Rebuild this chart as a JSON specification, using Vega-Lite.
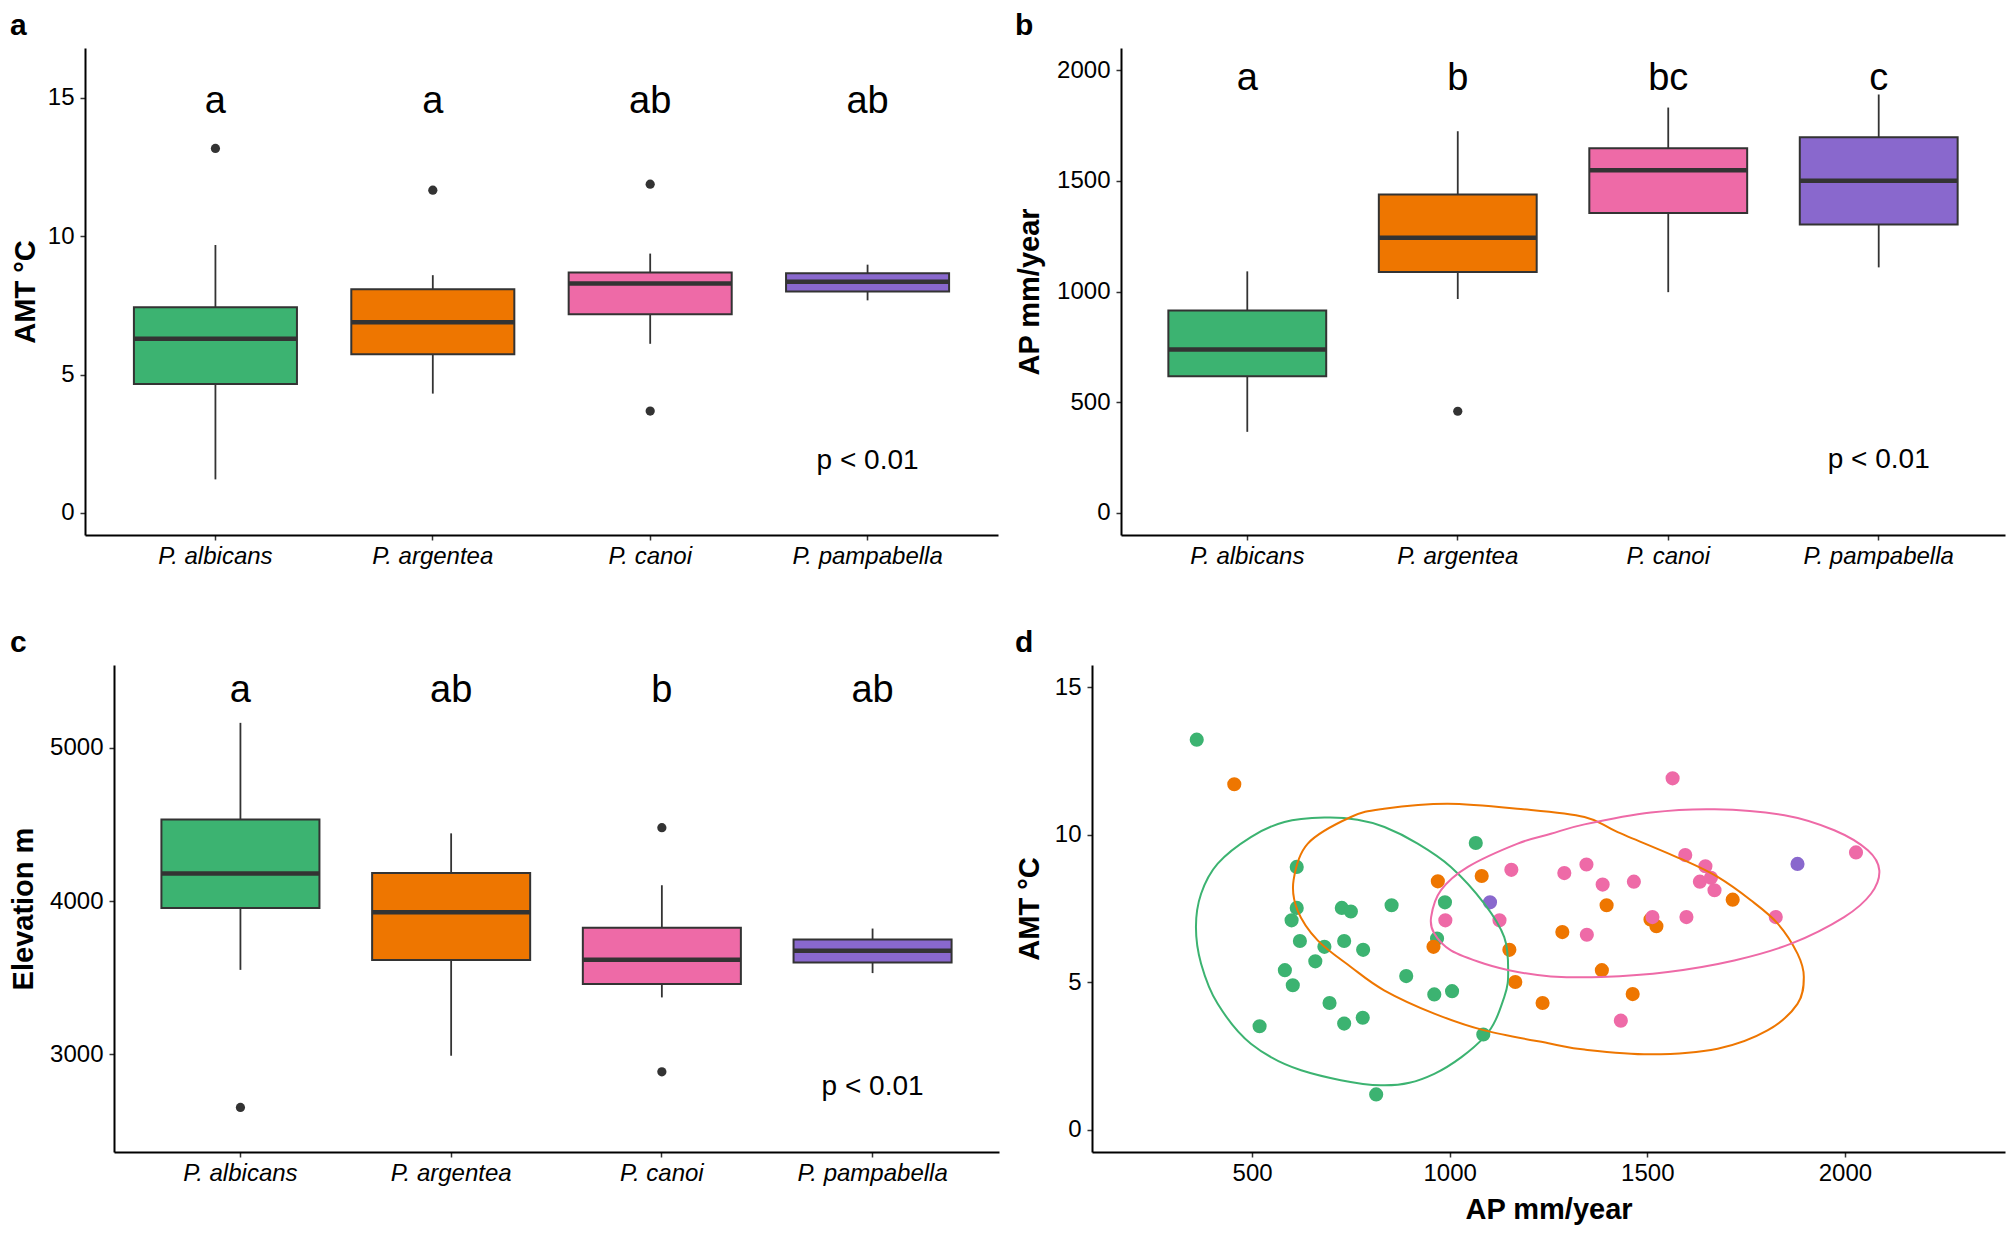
{
  "$schema": "https://vega.github.io/schema/vega-lite/v6.json",
  "background": "white",
  "padding": {"left": 9, "top": 11, "right": 5, "bottom": 5},
  "config": {
    "font": "Liberation Sans",
    "view": {"stroke": null},
    "axis": {"grid": false, "domainColor": "black", "domainWidth": 2, "tickColor": "#333333", "tickWidth": 1.5, "tickSize": 5, "labelColor": "black", "labelFontSize": 24, "labelFont": "Liberation Sans", "titleFont": "Liberation Sans", "titleFontSize": 29, "titleFontWeight": "bold", "titleColor": "black", "titlePadding": 0},
    "axisY": {"labelPadding": 6},
    "axisX": {"labelPadding": 4, "labelAngle": 0},
    "text": {"font": "Liberation Sans", "color": "black"}
  },
  "datasets": {
    "boxes": [
      {"panel": "a", "species": "P. albicans", "lo": 1.21, "q1": 4.66, "med": 6.29, "q3": 7.43, "hi": 9.68},
      {"panel": "a", "species": "P. argentea", "lo": 4.31, "q1": 5.73, "med": 6.89, "q3": 8.08, "hi": 8.59},
      {"panel": "a", "species": "P. canoi", "lo": 6.11, "q1": 7.18, "med": 8.29, "q3": 8.69, "hi": 9.37},
      {"panel": "a", "species": "P. pampabella", "lo": 7.68, "q1": 8.0, "med": 8.35, "q3": 8.66, "hi": 8.97},
      {"panel": "b", "species": "P. albicans", "lo": 366, "q1": 617, "med": 738, "q3": 914, "hi": 1091},
      {"panel": "b", "species": "P. argentea", "lo": 966, "q1": 1088, "med": 1243, "q3": 1438, "hi": 1724},
      {"panel": "b", "species": "P. canoi", "lo": 997, "q1": 1355, "med": 1548, "q3": 1647, "hi": 1831},
      {"panel": "b", "species": "P. pampabella", "lo": 1109, "q1": 1303, "med": 1500, "q3": 1697, "hi": 1890},
      {"panel": "c", "species": "P. albicans", "lo": 3550, "q1": 3955, "med": 4180, "q3": 4532, "hi": 5164},
      {"panel": "c", "species": "P. argentea", "lo": 2989, "q1": 3614, "med": 3926, "q3": 4183, "hi": 4442},
      {"panel": "c", "species": "P. canoi", "lo": 3370, "q1": 3458, "med": 3616, "q3": 3825, "hi": 4103},
      {"panel": "c", "species": "P. pampabella", "lo": 3529, "q1": 3598, "med": 3675, "q3": 3749, "hi": 3820}
    ],
    "outliers": [
      {"panel": "a", "species": "P. albicans", "v": 13.17},
      {"panel": "a", "species": "P. argentea", "v": 11.66},
      {"panel": "a", "species": "P. canoi", "v": 11.88},
      {"panel": "a", "species": "P. canoi", "v": 3.68},
      {"panel": "b", "species": "P. argentea", "v": 459},
      {"panel": "c", "species": "P. albicans", "v": 2651},
      {"panel": "c", "species": "P. canoi", "v": 4479},
      {"panel": "c", "species": "P. canoi", "v": 2884}
    ],
    "labels": [
      {"panel": "a", "species": "P. albicans", "txt": "a", "y": 14.44, "size": "big"},
      {"panel": "a", "species": "P. argentea", "txt": "a", "y": 14.44, "size": "big"},
      {"panel": "a", "species": "P. canoi", "txt": "ab", "y": 14.44, "size": "big"},
      {"panel": "a", "species": "P. pampabella", "txt": "ab", "y": 14.44, "size": "big"},
      {"panel": "a", "species": "P. pampabella", "txt": "p < 0.01", "y": 1.58, "size": "small"},
      {"panel": "b", "species": "P. albicans", "txt": "a", "y": 1909, "size": "big"},
      {"panel": "b", "species": "P. argentea", "txt": "b", "y": 1909, "size": "big"},
      {"panel": "b", "species": "P. canoi", "txt": "bc", "y": 1909, "size": "big"},
      {"panel": "b", "species": "P. pampabella", "txt": "c", "y": 1909, "size": "big"},
      {"panel": "b", "species": "P. pampabella", "txt": "p < 0.01", "y": 201, "size": "small"},
      {"panel": "c", "species": "P. albicans", "txt": "a", "y": 5301, "size": "big"},
      {"panel": "c", "species": "P. argentea", "txt": "ab", "y": 5301, "size": "big"},
      {"panel": "c", "species": "P. canoi", "txt": "b", "y": 5301, "size": "big"},
      {"panel": "c", "species": "P. pampabella", "txt": "ab", "y": 5301, "size": "big"},
      {"panel": "c", "species": "P. pampabella", "txt": "p < 0.01", "y": 2734, "size": "small"}
    ],
    "pts": [
      {"species": "P. albicans", "ap": 360, "amt": 13.22},
      {"species": "P. albicans", "ap": 613, "amt": 8.91},
      {"species": "P. albicans", "ap": 613, "amt": 7.52},
      {"species": "P. albicans", "ap": 600, "amt": 7.10},
      {"species": "P. albicans", "ap": 621, "amt": 6.40},
      {"species": "P. albicans", "ap": 583, "amt": 5.41},
      {"species": "P. albicans", "ap": 603, "amt": 4.90},
      {"species": "P. albicans", "ap": 660, "amt": 5.71},
      {"species": "P. albicans", "ap": 683, "amt": 6.20},
      {"species": "P. albicans", "ap": 727, "amt": 7.52},
      {"species": "P. albicans", "ap": 750, "amt": 7.40},
      {"species": "P. albicans", "ap": 733, "amt": 6.40},
      {"species": "P. albicans", "ap": 781, "amt": 6.10},
      {"species": "P. albicans", "ap": 853, "amt": 7.61},
      {"species": "P. albicans", "ap": 890, "amt": 5.21},
      {"species": "P. albicans", "ap": 696, "amt": 4.30},
      {"species": "P. albicans", "ap": 733, "amt": 3.60},
      {"species": "P. albicans", "ap": 780, "amt": 3.80},
      {"species": "P. albicans", "ap": 519, "amt": 3.51},
      {"species": "P. albicans", "ap": 814, "amt": 1.20},
      {"species": "P. albicans", "ap": 1066, "amt": 9.72},
      {"species": "P. albicans", "ap": 988, "amt": 7.71},
      {"species": "P. albicans", "ap": 968, "amt": 6.48},
      {"species": "P. albicans", "ap": 961, "amt": 4.59},
      {"species": "P. albicans", "ap": 1006, "amt": 4.70},
      {"species": "P. albicans", "ap": 1085, "amt": 3.23},
      {"species": "P. argentea", "ap": 455, "amt": 11.71},
      {"species": "P. argentea", "ap": 970, "amt": 8.42},
      {"species": "P. argentea", "ap": 1081, "amt": 8.60},
      {"species": "P. argentea", "ap": 959, "amt": 6.20},
      {"species": "P. argentea", "ap": 1151, "amt": 6.10},
      {"species": "P. argentea", "ap": 1166, "amt": 5.01},
      {"species": "P. argentea", "ap": 1235, "amt": 4.30},
      {"species": "P. argentea", "ap": 1285, "amt": 6.70},
      {"species": "P. argentea", "ap": 1397, "amt": 7.61},
      {"species": "P. argentea", "ap": 1508, "amt": 7.13},
      {"species": "P. argentea", "ap": 1523, "amt": 6.90},
      {"species": "P. argentea", "ap": 1716, "amt": 7.80},
      {"species": "P. argentea", "ap": 1385, "amt": 5.41},
      {"species": "P. argentea", "ap": 1463, "amt": 4.60},
      {"species": "P. canoi", "ap": 1564, "amt": 11.91},
      {"species": "P. canoi", "ap": 1156, "amt": 8.81},
      {"species": "P. canoi", "ap": 1290, "amt": 8.70},
      {"species": "P. canoi", "ap": 1346, "amt": 8.99},
      {"species": "P. canoi", "ap": 989, "amt": 7.10},
      {"species": "P. canoi", "ap": 1126, "amt": 7.10},
      {"species": "P. canoi", "ap": 1347, "amt": 6.61},
      {"species": "P. canoi", "ap": 1387, "amt": 8.31},
      {"species": "P. canoi", "ap": 1466, "amt": 8.41},
      {"species": "P. canoi", "ap": 1596, "amt": 9.31},
      {"species": "P. canoi", "ap": 1647, "amt": 8.93},
      {"species": "P. canoi", "ap": 1633, "amt": 8.41},
      {"species": "P. canoi", "ap": 1661, "amt": 8.54},
      {"species": "P. canoi", "ap": 1670, "amt": 8.12},
      {"species": "P. canoi", "ap": 1513, "amt": 7.21},
      {"species": "P. canoi", "ap": 1599, "amt": 7.21},
      {"species": "P. canoi", "ap": 1825, "amt": 7.21},
      {"species": "P. canoi", "ap": 2028, "amt": 9.40},
      {"species": "P. canoi", "ap": 1433, "amt": 3.70},
      {"species": "P. pampabella", "ap": 1102, "amt": 7.71},
      {"species": "P. pampabella", "ap": 1880, "amt": 9.01}
    ],
    "ell": [
      {"species": "P. albicans", "i": 1, "ap": 358, "amt": 6.87},
      {"species": "P. albicans", "i": 2, "ap": 371, "amt": 5.63},
      {"species": "P. albicans", "i": 3, "ap": 413, "amt": 4.27},
      {"species": "P. albicans", "i": 4, "ap": 497, "amt": 2.92},
      {"species": "P. albicans", "i": 5, "ap": 624, "amt": 2.02},
      {"species": "P. albicans", "i": 6, "ap": 826, "amt": 1.51},
      {"species": "P. albicans", "i": 7, "ap": 961, "amt": 1.90},
      {"species": "P. albicans", "i": 8, "ap": 1088, "amt": 3.15},
      {"species": "P. albicans", "i": 9, "ap": 1138, "amt": 4.50},
      {"species": "P. albicans", "i": 10, "ap": 1148, "amt": 5.41},
      {"species": "P. albicans", "i": 11, "ap": 1138, "amt": 6.53},
      {"species": "P. albicans", "i": 12, "ap": 1088, "amt": 7.66},
      {"species": "P. albicans", "i": 13, "ap": 1003, "amt": 8.91},
      {"species": "P. albicans", "i": 14, "ap": 919, "amt": 9.70},
      {"species": "P. albicans", "i": 15, "ap": 835, "amt": 10.26},
      {"species": "P. albicans", "i": 16, "ap": 767, "amt": 10.51},
      {"species": "P. albicans", "i": 17, "ap": 683, "amt": 10.58},
      {"species": "P. albicans", "i": 18, "ap": 582, "amt": 10.43},
      {"species": "P. albicans", "i": 19, "ap": 497, "amt": 9.92},
      {"species": "P. albicans", "i": 20, "ap": 413, "amt": 9.02},
      {"species": "P. albicans", "i": 21, "ap": 371, "amt": 8.0},
      {"species": "P. argentea", "i": 1, "ap": 605, "amt": 8.46},
      {"species": "P. argentea", "i": 2, "ap": 641, "amt": 9.70},
      {"species": "P. argentea", "i": 3, "ap": 750, "amt": 10.60},
      {"species": "P. argentea", "i": 4, "ap": 834, "amt": 10.88},
      {"species": "P. argentea", "i": 5, "ap": 995, "amt": 11.05},
      {"species": "P. argentea", "i": 6, "ap": 1180, "amt": 10.87},
      {"species": "P. argentea", "i": 7, "ap": 1341, "amt": 10.60},
      {"species": "P. argentea", "i": 8, "ap": 1425, "amt": 10.09},
      {"species": "P. argentea", "i": 9, "ap": 1594, "amt": 9.13},
      {"species": "P. argentea", "i": 10, "ap": 1678, "amt": 8.57},
      {"species": "P. argentea", "i": 11, "ap": 1762, "amt": 7.78},
      {"species": "P. argentea", "i": 12, "ap": 1830, "amt": 6.99},
      {"species": "P. argentea", "i": 13, "ap": 1880, "amt": 5.97},
      {"species": "P. argentea", "i": 14, "ap": 1896, "amt": 5.18},
      {"species": "P. argentea", "i": 15, "ap": 1880, "amt": 4.27},
      {"species": "P. argentea", "i": 16, "ap": 1804, "amt": 3.37},
      {"species": "P. argentea", "i": 17, "ap": 1678, "amt": 2.75},
      {"species": "P. argentea", "i": 18, "ap": 1509, "amt": 2.56},
      {"species": "P. argentea", "i": 19, "ap": 1341, "amt": 2.72},
      {"species": "P. argentea", "i": 20, "ap": 1256, "amt": 2.92},
      {"species": "P. argentea", "i": 21, "ap": 1088, "amt": 3.37},
      {"species": "P. argentea", "i": 22, "ap": 961, "amt": 3.94},
      {"species": "P. argentea", "i": 23, "ap": 834, "amt": 4.73},
      {"species": "P. argentea", "i": 24, "ap": 750, "amt": 5.52},
      {"species": "P. argentea", "i": 25, "ap": 666, "amt": 6.42},
      {"species": "P. argentea", "i": 26, "ap": 615, "amt": 7.44},
      {"species": "P. canoi", "i": 1, "ap": 953, "amt": 7.21},
      {"species": "P. canoi", "i": 2, "ap": 978, "amt": 8.12},
      {"species": "P. canoi", "i": 3, "ap": 1046, "amt": 8.91},
      {"species": "P. canoi", "i": 4, "ap": 1172, "amt": 9.70},
      {"species": "P. canoi", "i": 5, "ap": 1256, "amt": 10.03},
      {"species": "P. canoi", "i": 6, "ap": 1341, "amt": 10.35},
      {"species": "P. canoi", "i": 7, "ap": 1509, "amt": 10.75},
      {"species": "P. canoi", "i": 8, "ap": 1670, "amt": 10.86},
      {"species": "P. canoi", "i": 9, "ap": 1847, "amt": 10.66},
      {"species": "P. canoi", "i": 10, "ap": 1973, "amt": 10.15},
      {"species": "P. canoi", "i": 11, "ap": 2058, "amt": 9.47},
      {"species": "P. canoi", "i": 12, "ap": 2087, "amt": 8.79},
      {"species": "P. canoi", "i": 13, "ap": 2066, "amt": 8.0},
      {"species": "P. canoi", "i": 14, "ap": 1998, "amt": 7.21},
      {"species": "P. canoi", "i": 15, "ap": 1864, "amt": 6.31},
      {"species": "P. canoi", "i": 16, "ap": 1720, "amt": 5.74},
      {"species": "P. canoi", "i": 17, "ap": 1552, "amt": 5.35},
      {"species": "P. canoi", "i": 18, "ap": 1383, "amt": 5.18},
      {"species": "P. canoi", "i": 19, "ap": 1256, "amt": 5.20},
      {"species": "P. canoi", "i": 20, "ap": 1172, "amt": 5.35},
      {"species": "P. canoi", "i": 21, "ap": 1088, "amt": 5.63},
      {"species": "P. canoi", "i": 22, "ap": 1003, "amt": 6.08},
      {"species": "P. canoi", "i": 23, "ap": 961, "amt": 6.65}
    ]
  },
  "columns": 2,
  "spacing": {"row": 60, "column": 16},
  "concat": [
    {
      "width": 913, "height": 487,
      "title": {"text": "a", "anchor": "start", "frame": "group", "dx": -75, "fontSize": 30, "fontWeight": "bold", "baseline": "alphabetic", "offset": -17, "color": "black", "font": "Liberation Sans"},
      "encoding": {
        "x": {"field": "species", "type": "nominal", "scale": {"domain": ["P. albicans", "P. argentea", "P. canoi", "P. pampabella"], "paddingInner": 0.25, "paddingOuter": 0.225}, "axis": {"title": null, "labelFontStyle": "italic"}}
      },
      "layer": [
        {"data": {"name": "boxes"}, "transform": [{"filter": "datum.panel === 'a'"}], "mark": {"type": "rule", "color": "#333333", "strokeWidth": 1.8},
         "encoding": {"y": {"field": "lo", "type": "quantitative", "title": "AMT °C", "scale": {"domain": [-0.8, 16.8], "nice": false, "zero": false}, "axis": {"values": [0, 5, 10, 15], "format": "d", "minExtent": 45, "maxExtent": 45}}, "y2": {"field": "hi"}}},
        {"data": {"name": "boxes"}, "transform": [{"filter": "datum.panel === 'a'"}], "mark": {"type": "bar", "stroke": "#333333", "strokeWidth": 2, "opacity": 1},
         "encoding": {"y": {"field": "q1", "type": "quantitative", "title": "AMT °C"}, "y2": {"field": "q3"}, "color": {"field": "species", "type": "nominal", "scale": {"domain": ["P. albicans", "P. argentea", "P. canoi", "P. pampabella"], "range": ["#3CB371", "#EE7600", "#EE6AA7", "#8968CD"]}, "legend": null}}},
        {"data": {"name": "boxes"}, "transform": [{"filter": "datum.panel === 'a'"}], "mark": {"type": "tick", "color": "#333333", "thickness": 4.5, "opacity": 1},
         "encoding": {"y": {"field": "med", "type": "quantitative", "title": "AMT °C"}}},
        {"data": {"name": "outliers"}, "transform": [{"filter": "datum.panel === 'a'"}], "mark": {"type": "circle", "color": "#333333", "size": 85, "opacity": 1},
         "encoding": {"y": {"field": "v", "type": "quantitative", "title": "AMT °C"}}},
        {"data": {"name": "labels"}, "transform": [{"filter": "datum.panel === 'a' && datum.size === 'big'"}], "mark": {"type": "text", "fontSize": 38, "baseline": "alphabetic", "align": "center"},
         "encoding": {"y": {"field": "y", "type": "quantitative", "title": "AMT °C"}, "text": {"field": "txt"}}},
        {"data": {"name": "labels"}, "transform": [{"filter": "datum.panel === 'a' && datum.size === 'small'"}], "mark": {"type": "text", "fontSize": 28, "baseline": "alphabetic", "align": "center"},
         "encoding": {"y": {"field": "y", "type": "quantitative", "title": "AMT °C"}, "text": {"field": "txt"}}}
      ]
    },
    {
      "width": 913, "height": 487,
      "title": {"text": "b", "anchor": "start", "frame": "group", "dx": -77, "fontSize": 30, "fontWeight": "bold", "baseline": "alphabetic", "offset": -17, "color": "black", "font": "Liberation Sans"},
      "encoding": {
        "x": {"field": "species", "type": "nominal", "scale": {"domain": ["P. albicans", "P. argentea", "P. canoi", "P. pampabella"], "paddingInner": 0.25, "paddingOuter": 0.225, "range": [29, 913]}, "axis": {"title": null, "labelFontStyle": "italic"}}
      },
      "layer": [
        {"data": {"name": "boxes"}, "transform": [{"filter": "datum.panel === 'b'"}], "mark": {"type": "rule", "color": "#333333", "strokeWidth": 1.8},
         "encoding": {"y": {"field": "lo", "type": "quantitative", "title": "AP mm/year", "scale": {"domain": [-100, 2100], "nice": false, "zero": false}, "axis": {"values": [0, 500, 1000, 1500, 2000], "format": "d", "offset": -29, "minExtent": 77, "maxExtent": 77}}, "y2": {"field": "hi"}}},
        {"data": {"name": "boxes"}, "transform": [{"filter": "datum.panel === 'b'"}], "mark": {"type": "bar", "stroke": "#333333", "strokeWidth": 2, "opacity": 1},
         "encoding": {"y": {"field": "q1", "type": "quantitative", "title": "AP mm/year"}, "y2": {"field": "q3"}, "color": {"field": "species", "type": "nominal", "scale": {"domain": ["P. albicans", "P. argentea", "P. canoi", "P. pampabella"], "range": ["#3CB371", "#EE7600", "#EE6AA7", "#8968CD"]}, "legend": null}}},
        {"data": {"name": "boxes"}, "transform": [{"filter": "datum.panel === 'b'"}], "mark": {"type": "tick", "color": "#333333", "thickness": 4.5, "opacity": 1},
         "encoding": {"y": {"field": "med", "type": "quantitative", "title": "AP mm/year"}}},
        {"data": {"name": "outliers"}, "transform": [{"filter": "datum.panel === 'b'"}], "mark": {"type": "circle", "color": "#333333", "size": 85, "opacity": 1},
         "encoding": {"y": {"field": "v", "type": "quantitative", "title": "AP mm/year"}}},
        {"data": {"name": "labels"}, "transform": [{"filter": "datum.panel === 'b' && datum.size === 'big'"}], "mark": {"type": "text", "fontSize": 38, "baseline": "alphabetic", "align": "center"},
         "encoding": {"y": {"field": "y", "type": "quantitative", "title": "AP mm/year"}, "text": {"field": "txt"}}},
        {"data": {"name": "labels"}, "transform": [{"filter": "datum.panel === 'b' && datum.size === 'small'"}], "mark": {"type": "text", "fontSize": 28, "baseline": "alphabetic", "align": "center"},
         "encoding": {"y": {"field": "y", "type": "quantitative", "title": "AP mm/year"}, "text": {"field": "txt"}}}
      ]
    },
    {
      "width": 914, "height": 487,
      "title": {"text": "c", "anchor": "start", "frame": "group", "dx": -75, "fontSize": 30, "fontWeight": "bold", "baseline": "alphabetic", "offset": -17, "color": "black", "font": "Liberation Sans"},
      "encoding": {
        "x": {"field": "species", "type": "nominal", "scale": {"domain": ["P. albicans", "P. argentea", "P. canoi", "P. pampabella"], "paddingInner": 0.25, "paddingOuter": 0.225, "range": [29, 914]}, "axis": {"title": null, "labelFontStyle": "italic"}}
      },
      "layer": [
        {"data": {"name": "boxes"}, "transform": [{"filter": "datum.panel === 'c'"}], "mark": {"type": "rule", "color": "#333333", "strokeWidth": 1.8},
         "encoding": {"y": {"field": "lo", "type": "quantitative", "title": "Elevation m", "scale": {"domain": [2360, 5542], "nice": false, "zero": false}, "axis": {"values": [3000, 4000, 5000], "format": "d", "offset": -29, "minExtent": 76, "maxExtent": 76}}, "y2": {"field": "hi"}}},
        {"data": {"name": "boxes"}, "transform": [{"filter": "datum.panel === 'c'"}], "mark": {"type": "bar", "stroke": "#333333", "strokeWidth": 2, "opacity": 1},
         "encoding": {"y": {"field": "q1", "type": "quantitative", "title": "Elevation m"}, "y2": {"field": "q3"}, "color": {"field": "species", "type": "nominal", "scale": {"domain": ["P. albicans", "P. argentea", "P. canoi", "P. pampabella"], "range": ["#3CB371", "#EE7600", "#EE6AA7", "#8968CD"]}, "legend": null}}},
        {"data": {"name": "boxes"}, "transform": [{"filter": "datum.panel === 'c'"}], "mark": {"type": "tick", "color": "#333333", "thickness": 4.5, "opacity": 1},
         "encoding": {"y": {"field": "med", "type": "quantitative", "title": "Elevation m"}}},
        {"data": {"name": "outliers"}, "transform": [{"filter": "datum.panel === 'c'"}], "mark": {"type": "circle", "color": "#333333", "size": 85, "opacity": 1},
         "encoding": {"y": {"field": "v", "type": "quantitative", "title": "Elevation m"}}},
        {"data": {"name": "labels"}, "transform": [{"filter": "datum.panel === 'c' && datum.size === 'big'"}], "mark": {"type": "text", "fontSize": 38, "baseline": "alphabetic", "align": "center"},
         "encoding": {"y": {"field": "y", "type": "quantitative", "title": "Elevation m"}, "text": {"field": "txt"}}},
        {"data": {"name": "labels"}, "transform": [{"filter": "datum.panel === 'c' && datum.size === 'small'"}], "mark": {"type": "text", "fontSize": 28, "baseline": "alphabetic", "align": "center"},
         "encoding": {"y": {"field": "y", "type": "quantitative", "title": "Elevation m"}, "text": {"field": "txt"}}}
      ]
    },
    {
      "width": 913, "height": 487,
      "title": {"text": "d", "anchor": "start", "frame": "group", "dx": -77, "fontSize": 30, "fontWeight": "bold", "baseline": "alphabetic", "offset": -17, "color": "black", "font": "Liberation Sans"},
      "layer": [
        {"data": {"name": "pts"}, "mark": {"type": "circle", "size": 200, "opacity": 1},
         "encoding": {
           "x": {"field": "ap", "type": "quantitative", "title": "AP mm/year", "scale": {"domain": [95, 2405], "nice": false, "zero": false}, "axis": {"values": [500, 1000, 1500, 2000], "format": "d", "minExtent": 43, "maxExtent": 43}},
           "y": {"field": "amt", "type": "quantitative", "title": "AMT °C", "scale": {"domain": [-0.75, 15.75], "nice": false, "zero": false}, "axis": {"values": [0, 5, 10, 15], "format": "d", "minExtent": 48, "maxExtent": 48}},
           "color": {"field": "species", "type": "nominal", "scale": {"domain": ["P. albicans", "P. argentea", "P. canoi", "P. pampabella"], "range": ["#3CB371", "#EE7600", "#EE6AA7", "#8968CD"]}, "legend": null}
         }},
        {"data": {"name": "ell"}, "mark": {"type": "line", "interpolate": "cardinal-closed", "strokeWidth": 2},
         "encoding": {
           "x": {"field": "ap", "type": "quantitative", "title": "AP mm/year"},
           "y": {"field": "amt", "type": "quantitative", "title": "AMT °C"},
           "color": {"field": "species", "type": "nominal", "legend": null},
           "order": {"field": "i", "type": "quantitative"}
         }}
      ]
    }
  ]
}
